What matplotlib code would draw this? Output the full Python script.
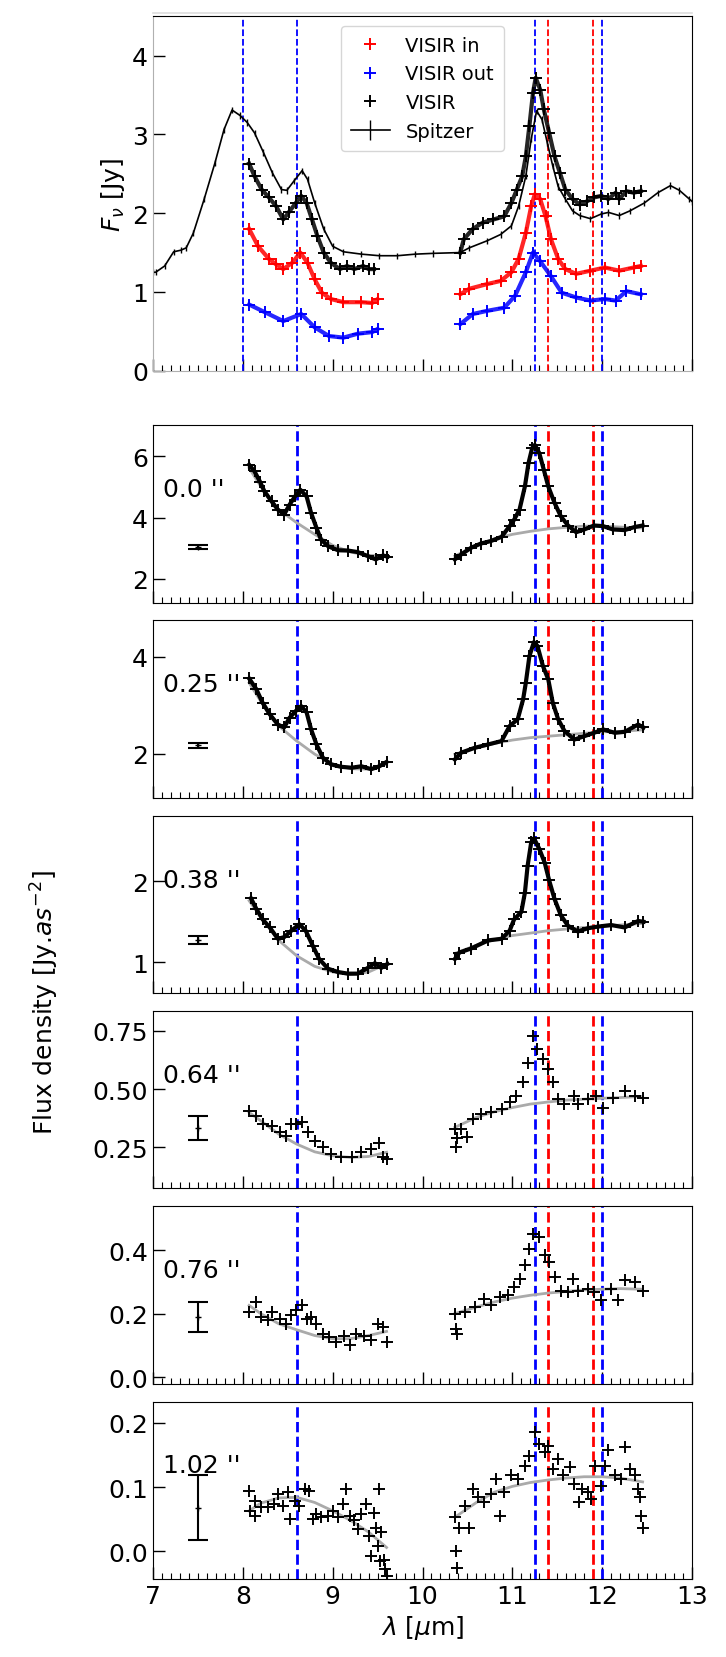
import matplotlib
matplotlib.use("Agg")
import matplotlib.pyplot as plt
from matplotlib.ticker import MultipleLocator
from matplotlib.lines import Line2D

plt.rcParams['font.family'] = ['DejaVu Sans']
plt.rcParams['font.size'] = 18

# ---------------- top panel data ----------------
sp_w = [7.0, 7.03, 7.13, 7.23, 7.31, 7.37, 7.45, 7.57, 7.69, 7.79, 7.88, 7.97, 8.05, 8.13, 8.23,
        8.33, 8.43, 8.49, 8.57, 8.66, 8.72, 8.80, 8.90, 9.00, 9.12, 9.32, 9.52, 9.72, 9.92, 10.12,
        10.42, 10.52, 10.72, 10.87, 10.99, 11.07, 11.15, 11.21, 11.27, 11.33, 11.39, 11.45, 11.51,
        11.59, 11.67, 11.75, 11.87, 11.99, 12.07, 12.19, 12.31, 12.47, 12.62, 12.76, 12.86, 12.97, 13.0]
sp_f = [1.25, 1.25, 1.33, 1.51, 1.53, 1.56, 1.75, 2.18, 2.64, 3.06, 3.31, 3.24, 3.15, 3.02, 2.77,
        2.51, 2.30, 2.29, 2.41, 2.54, 2.43, 2.13, 1.80, 1.58, 1.51, 1.48, 1.46, 1.46, 1.48, 1.49,
        1.50, 1.56, 1.65, 1.73, 1.84, 2.09, 2.47, 2.94, 3.30, 3.19, 2.89, 2.60, 2.34,
        2.18, 2.03, 1.97, 1.93, 1.99, 2.01, 1.97, 2.03, 2.13, 2.26, 2.35, 2.29, 2.18, 2.15]
sp_err = 0.04

vb_wA = [8.07, 8.13, 8.21, 8.29, 8.37, 8.45, 8.51, 8.59, 8.65, 8.71, 8.77, 8.83, 8.90, 8.98, 9.08,
         9.16, 9.24, 9.34, 9.40, 9.46]
vb_fA = [2.63, 2.47, 2.30, 2.20, 2.09, 1.92, 2.01, 2.13, 2.22, 2.13, 1.92, 1.71, 1.50, 1.37, 1.29,
         1.33, 1.29, 1.33, 1.29, 1.29]
vb_wB = [10.42, 10.46, 10.56, 10.67, 10.79, 10.91, 10.99, 11.05, 11.11, 11.15, 11.19, 11.23, 11.26,
         11.31, 11.35, 11.41, 11.47, 11.53, 11.59, 11.67, 11.75, 11.83, 11.91, 11.99, 12.07, 12.15,
         12.19, 12.27, 12.35, 12.43]
vb_fB = [1.50, 1.67, 1.80, 1.88, 1.92, 1.96, 2.13, 2.30, 2.47, 2.72, 3.11, 3.53, 3.72, 3.57, 3.32,
         3.02, 2.72, 2.51, 2.30, 2.18, 2.11, 2.15, 2.20, 2.22, 2.18, 2.26, 2.18, 2.28, 2.26, 2.28]

vr_wA = [8.07, 8.17, 8.29, 8.37, 8.45, 8.55, 8.64, 8.72, 8.80, 8.88, 8.98, 9.12, 9.32, 9.44, 9.50]
vr_fA = [1.80, 1.58, 1.42, 1.35, 1.29, 1.37, 1.50, 1.37, 1.16, 0.99, 0.91, 0.87, 0.87, 0.86, 0.91]
vr_wB = [10.42, 10.52, 10.72, 10.87, 10.99, 11.07, 11.15, 11.21, 11.25, 11.31, 11.37, 11.43, 11.51,
         11.59, 11.71, 11.87, 12.03, 12.19, 12.35, 12.43]
vr_fB = [0.97, 1.04, 1.10, 1.14, 1.25, 1.42, 1.75, 2.09, 2.24, 2.18, 1.96, 1.67, 1.42, 1.29, 1.23,
         1.27, 1.31, 1.27, 1.31, 1.33]

vu_wA = [8.07, 8.25, 8.45, 8.65, 8.80, 8.96, 9.12, 9.28, 9.44, 9.50]
vu_fA = [0.84, 0.74, 0.63, 0.72, 0.55, 0.44, 0.42, 0.47, 0.49, 0.53]
vu_wB = [10.42, 10.56, 10.72, 10.91, 11.03, 11.15, 11.23, 11.31, 11.43, 11.55, 11.71, 11.87, 12.03,
         12.15, 12.27, 12.43]
vu_fB = [0.59, 0.72, 0.76, 0.80, 0.95, 1.25, 1.50, 1.39, 1.20, 0.99, 0.93, 0.89, 0.91, 0.89, 1.01, 0.97]

top_blue_lines = [8.0, 8.6, 11.25, 12.0]
low_blue_lines = [8.6, 11.25, 12.0]
red_lines = [11.4, 11.9]

# ---------------- radial panels data ----------------
cont_wA = [8.07, 8.2, 8.4, 8.6, 8.8, 9.0, 9.2, 9.4, 9.6]
cont_wB = [10.36, 10.6, 10.8, 11.0, 11.2, 11.4, 11.6, 11.8, 12.0, 12.2, 12.45]

p1_wA = [8.07, 8.13, 8.19, 8.24, 8.32, 8.39, 8.46, 8.52, 8.58, 8.64, 8.71, 8.76, 8.82, 8.87, 8.95,
         9.06, 9.17, 9.28, 9.39, 9.48, 9.56, 9.61]
p1_fA = [5.73, 5.51, 5.18, 4.86, 4.53, 4.26, 4.10, 4.42, 4.69, 4.91, 4.69, 4.15, 3.66, 3.28, 3.06,
         2.93, 2.92, 2.87, 2.74, 2.63, 2.76, 2.72]
p1_wB = [10.36, 10.43, 10.54, 10.65, 10.76, 10.88, 10.97, 11.02, 11.08, 11.14, 11.18, 11.22, 11.25,
         11.30, 11.35, 11.40, 11.47, 11.54, 11.62, 11.71, 11.80, 11.91, 12.01, 12.12, 12.25, 12.36, 12.45]
p1_fB = [2.63, 2.79, 3.01, 3.15, 3.23, 3.37, 3.72, 3.93, 4.26, 5.02, 5.78, 6.27, 6.38, 6.11, 5.57,
         5.02, 4.48, 4.04, 3.74, 3.52, 3.61, 3.74, 3.72, 3.61, 3.59, 3.69, 3.74]
p1_cA = [5.62, 5.02, 4.26, 3.83, 3.45, 3.09, 2.87, 2.76, 2.76]
p1_cB = [2.74, 3.09, 3.30, 3.45, 3.55, 3.63, 3.68, 3.72, 3.72, 3.69, 3.66]

p2_wA = [8.07, 8.15, 8.22, 8.30, 8.39, 8.46, 8.52, 8.59, 8.65, 8.71, 8.76, 8.82, 8.89, 8.98, 9.09,
         9.21, 9.32, 9.43, 9.52, 9.60]
p2_fA = [3.55, 3.33, 3.05, 2.81, 2.60, 2.54, 2.74, 2.88, 2.98, 2.85, 2.50, 2.19, 1.92, 1.78, 1.73,
         1.71, 1.74, 1.68, 1.74, 1.83]
p2_wB = [10.36, 10.43, 10.58, 10.73, 10.88, 10.97, 11.06, 11.12, 11.15, 11.19, 11.24, 11.28, 11.34,
         11.40, 11.45, 11.51, 11.58, 11.69, 11.80, 11.91, 12.01, 12.14, 12.25, 12.40, 12.46]
p2_fB = [1.88, 2.02, 2.12, 2.19, 2.26, 2.57, 2.71, 3.12, 3.46, 4.01, 4.30, 4.22, 3.81, 3.53, 3.05,
         2.71, 2.47, 2.29, 2.36, 2.43, 2.50, 2.43, 2.45, 2.60, 2.54]
p2_cA = [3.46, 3.08, 2.57, 2.26, 1.99, 1.79, 1.69, 1.68, 1.78]
p2_cB = [1.99, 2.12, 2.21, 2.28, 2.33, 2.36, 2.39, 2.42, 2.45, 2.46, 2.49]

p3_wA = [8.09, 8.15, 8.22, 8.30, 8.39, 8.46, 8.54, 8.63, 8.70, 8.78, 8.85, 8.95, 9.06, 9.17, 9.28,
         9.39, 9.47, 9.54, 9.61]
p3_fA = [1.79, 1.66, 1.53, 1.43, 1.29, 1.31, 1.39, 1.47, 1.39, 1.20, 1.04, 0.92, 0.88, 0.86, 0.86,
         0.93, 0.99, 0.93, 0.98]
p3_wB = [10.36, 10.41, 10.54, 10.73, 10.88, 10.97, 11.02, 11.10, 11.14, 11.17, 11.21, 11.24, 11.30,
         11.36, 11.41, 11.47, 11.54, 11.62, 11.73, 11.84, 11.95, 12.10, 12.25, 12.40, 12.46]
p3_fB = [1.04, 1.12, 1.17, 1.27, 1.29, 1.39, 1.53, 1.62, 1.86, 2.19, 2.48, 2.53, 2.40, 2.23, 2.01,
         1.78, 1.58, 1.45, 1.38, 1.42, 1.44, 1.46, 1.43, 1.51, 1.50]
p3_cA = [1.76, 1.56, 1.27, 1.08, 0.95, 0.88, 0.85, 0.88, 0.98]
p3_cB = [1.11, 1.21, 1.28, 1.33, 1.36, 1.39, 1.41, 1.43, 1.44, 1.46, 1.48]

p4_wA = [8.07, 8.15, 8.22, 8.32, 8.41, 8.48, 8.54, 8.59, 8.66, 8.72, 8.80, 8.89, 8.98, 9.09, 9.21,
         9.32, 9.43, 9.52, 9.56, 9.60]
p4_fA = [0.407, 0.385, 0.35, 0.343, 0.314, 0.30, 0.35, 0.35, 0.357, 0.314, 0.278, 0.25, 0.221, 0.207,
         0.207, 0.229, 0.243, 0.271, 0.207, 0.20]
p4_wB = [10.36, 10.37, 10.38, 10.43, 10.50, 10.56, 10.65, 10.76, 10.88, 10.97, 11.04, 11.12, 11.17,
         11.23, 11.28, 11.34, 11.40, 11.45, 11.51, 11.58, 11.69, 11.73, 11.84, 11.93, 12.01, 12.12,
         12.25, 12.36, 12.46]
p4_fB = [0.33, 0.25, 0.29, 0.328, 0.293, 0.371, 0.393, 0.40, 0.414, 0.443, 0.471, 0.529, 0.614, 0.728,
         0.671, 0.628, 0.586, 0.529, 0.457, 0.436, 0.471, 0.436, 0.457, 0.471, 0.421, 0.464, 0.493,
         0.471, 0.464]
p4_cA = [0.40, 0.364, 0.307, 0.264, 0.231, 0.214, 0.207, 0.211, 0.229]
p4_cB = [0.336, 0.379, 0.403, 0.421, 0.436, 0.445, 0.453, 0.457, 0.461, 0.464, 0.469]

p5_wA = [8.07, 8.15, 8.20, 8.28, 8.33, 8.41, 8.48, 8.54, 8.59, 8.66, 8.71, 8.76, 8.82, 8.89, 8.96,
         9.04, 9.13, 9.19, 9.26, 9.35, 9.43, 9.50, 9.56, 9.60]
p5_fA = [0.205, 0.237, 0.19, 0.179, 0.205, 0.184, 0.168, 0.195, 0.21, 0.226, 0.184, 0.19, 0.168, 0.137,
         0.126, 0.111, 0.131, 0.10, 0.137, 0.131, 0.116, 0.168, 0.158, 0.111]
p5_wB = [10.36, 10.37, 10.38, 10.47, 10.58, 10.69, 10.76, 10.86, 10.95, 11.02, 11.08, 11.14, 11.18,
         11.23, 11.30, 11.36, 11.41, 11.47, 11.54, 11.62, 11.68, 11.73, 11.84, 11.91, 11.99, 12.10,
         12.18, 12.25, 12.36, 12.46]
p5_fB = [0.20, 0.153, 0.137, 0.205, 0.221, 0.247, 0.226, 0.253, 0.258, 0.284, 0.31, 0.352, 0.405,
         0.452, 0.442, 0.384, 0.363, 0.316, 0.273, 0.268, 0.31, 0.273, 0.279, 0.268, 0.242, 0.279,
         0.242, 0.305, 0.30, 0.273]
p5_cA = [0.226, 0.20, 0.168, 0.149, 0.131, 0.121, 0.121, 0.131, 0.144]
p5_cB = [0.20, 0.221, 0.237, 0.249, 0.258, 0.265, 0.27, 0.275, 0.277, 0.279, 0.277]

p6_wA = [8.07, 8.08, 8.13, 8.14, 8.20, 8.28, 8.35, 8.39, 8.45, 8.50, 8.53, 8.58, 8.63, 8.69, 8.74,
         8.78, 8.82, 8.87, 8.95, 9.00, 9.06, 9.11, 9.15, 9.19, 9.24, 9.28, 9.32, 9.37, 9.41, 9.43,
         9.46, 9.48, 9.50, 9.52, 9.53, 9.54, 9.57, 9.58, 9.60]
p6_fA = [0.094, 0.063, 0.079, 0.055, 0.069, 0.069, 0.074, 0.089, 0.071, 0.092, 0.05, 0.079, 0.071,
         0.097, 0.094, 0.05, 0.058, 0.053, 0.055, 0.063, 0.053, 0.074, 0.097, 0.055, 0.048, 0.035,
         0.058, 0.074, 0.024, -0.007, 0.06, 0.037, 0.009, 0.097, -0.015, 0.03, -0.013, -0.028, -0.038]
p6_wB = [10.36, 10.37, 10.38, 10.41, 10.47, 10.52, 10.56, 10.62, 10.69, 10.76, 10.82, 10.86, 10.91,
         10.99, 11.06, 11.14, 11.19, 11.25, 11.30, 11.36, 11.40, 11.45, 11.51, 11.56, 11.64, 11.69,
         11.74, 11.77, 11.84, 11.88, 11.92, 11.99, 12.03, 12.06, 12.14, 12.21, 12.25, 12.31, 12.36,
         12.40, 12.42, 12.43, 12.45]
p6_fB = [0.053, 0.001, -0.026, 0.037, 0.071, 0.037, 0.097, 0.084, 0.076, 0.089, 0.113, 0.055, 0.092,
         0.118, 0.113, 0.133, 0.149, 0.185, 0.167, 0.154, 0.164, 0.128, 0.143, 0.118, 0.131, 0.105,
         0.076, 0.097, 0.092, 0.081, 0.133, 0.102, 0.133, 0.157, 0.118, 0.113, 0.162, 0.128, 0.118,
         0.097, 0.084, 0.055, 0.037]
p6_cA = [0.063, 0.075, 0.083, 0.084, 0.076, 0.063, 0.048, 0.03, 0.006]
p6_cB = [0.053, 0.076, 0.092, 0.101, 0.107, 0.111, 0.114, 0.116, 0.116, 0.114, 0.108]

radius_labels = ["0.0 ''", "0.25 ''", "0.38 ''", "0.64 ''", "0.76 ''", "1.02 ''"]
ebar_x = 7.5
ebar_y = [3.05, 2.17, 1.27, 0.333, 0.189, 0.068]
ebar_e = [0.065, 0.055, 0.05, 0.05, 0.048, 0.05]
ylims = [(1.22, 7.03), (1.09, 4.75), (0.62, 2.81), (0.074, 0.836), (-0.021, 0.539), (-0.043, 0.233)]
ystep = [2, 2, 1, 0.25, 0.2, 0.1]

panels = [
    (p1_wA, p1_fA, p1_wB, p1_fB, p1_cA, p1_cB),
    (p2_wA, p2_fA, p2_wB, p2_fB, p2_cA, p2_cB),
    (p3_wA, p3_fA, p3_wB, p3_fB, p3_cA, p3_cB),
    (p4_wA, p4_fA, p4_wB, p4_fB, p4_cA, p4_cB),
    (p5_wA, p5_fA, p5_wB, p5_fB, p5_cA, p5_cB),
    (p6_wA, p6_fA, p6_wB, p6_fB, p6_cA, p6_cB),
]

# ---------------- figure ----------------
W, H = 726, 1658
fig = plt.figure(figsize=(W / 100, H / 100), dpi=100)

left = 153 / W
width = (692 - 153) / W


def style_ticks(ax, labelbottom):
    ax.set_xlim(7, 13)
    ax.xaxis.set_major_locator(MultipleLocator(1))
    ax.xaxis.set_minor_locator(MultipleLocator(0.1))
    ax.tick_params(axis='both', which='major', direction='in', length=8.5, width=1, labelsize=18)
    ax.tick_params(axis='x', which='minor', direction='in', length=4.5, width=0.8)
    ax.tick_params(axis='x', labelbottom=labelbottom)


# top panel
ax0 = fig.add_axes([left, 1 - 371.7 / H, width, (371.7 - 17.3) / H])
style_ticks(ax0, False)
ax0.set_ylim(0, 4.5)
ax0.yaxis.set_major_locator(MultipleLocator(1))
for s in ['left', 'bottom']:
    ax0.spines[s].set_color('#b0b0b0')
fig.add_artist(Line2D([left, left + width], [1 - 14 / H, 1 - 14 / H], color='#dddddd', lw=1.2))
for xv in top_blue_lines:
    ax0.axvline(xv, color='blue', ls='--', lw=1.3)
for xv in red_lines:
    ax0.axvline(xv, color='red', ls='--', lw=1.3)

mk = dict(marker='+', ls='none', ms=8, mew=1.4)
ax0.plot(vr_wA, vr_fA, color='red', label='VISIR in', **mk)
ax0.plot(vr_wB, vr_fB, color='red', **mk)
ax0.plot(vu_wA, vu_fA, color='blue', label='VISIR out', **mk)
ax0.plot(vu_wB, vu_fB, color='blue', **mk)
ax0.plot(vb_wA, vb_fA, color='black', label='VISIR', **mk)
ax0.plot(vb_wB, vb_fB, color='black', **mk)
for xs, ys, c in [(vr_wA, vr_fA, 'red'), (vr_wB, vr_fB, 'red'), (vu_wA, vu_fA, 'blue'),
                  (vu_wB, vu_fB, 'blue'), (vb_wA, vb_fA, 'black'), (vb_wB, vb_fB, 'black')]:
    ax0.plot(xs, ys, color=c, lw=3.0, alpha=0.85)
ax0.errorbar(sp_w, sp_f, yerr=sp_err, color='black', lw=1.2, elinewidth=1.0, label='Spitzer')
ax0.legend(loc='upper center', fontsize=14, handlelength=2.0, borderpad=0.5)
ax0.set_ylabel(r'$F_\nu$ [Jy]', fontsize=18)

# radial panels
step = 195.3
ph = 177.5
for i, (wA, fA, wB, fB, cA, cB) in enumerate(panels):
    top = 426 + i * step
    ax = fig.add_axes([left, 1 - (top + ph) / H, width, ph / H])
    style_ticks(ax, i == len(panels) - 1)
    ax.set_ylim(*ylims[i])
    ax.yaxis.set_major_locator(MultipleLocator(ystep[i]))
    for xv in low_blue_lines:
        ax.axvline(xv, color='blue', ls='--', lw=2)
    for xv in red_lines:
        ax.axvline(xv, color='red', ls='--', lw=2)
    ax.plot(cont_wA, cA, color='#aaaaaa', lw=2, zorder=3)
    ax.plot(cont_wB, cB, color='#aaaaaa', lw=2, zorder=3)
    ax.plot(wA, fA, color='black', zorder=4, **mk)
    ax.plot(wB, fB, color='black', zorder=4, **mk)
    if i < 3:
        ax.plot(wA, fA, color='black', lw=3.0, zorder=4)
        ax.plot(wB, fB, color='black', lw=3.0, zorder=4)
    ax.errorbar([ebar_x], [ebar_y[i]], yerr=[ebar_e[i]], fmt='+', color='black', ms=5,
                capsize=7, elinewidth=1.5, capthick=1.5)
    ax.text(7.11, 0.6, radius_labels[i], transform=ax.get_xaxis_transform(),
            fontsize=18, va='baseline', ha='left')
    if i == len(panels) - 1:
        ax.set_xlabel(r'$\lambda$ [$\mu$m]', fontsize=18)

mid = 1 - ((426 + 1580) / 2) / H
fig.text(0.062, mid, r'Flux density [Jy.$as^{-2}$]', rotation=90, va='center', ha='center', fontsize=18)

fig.savefig('out.png', dpi=100)
